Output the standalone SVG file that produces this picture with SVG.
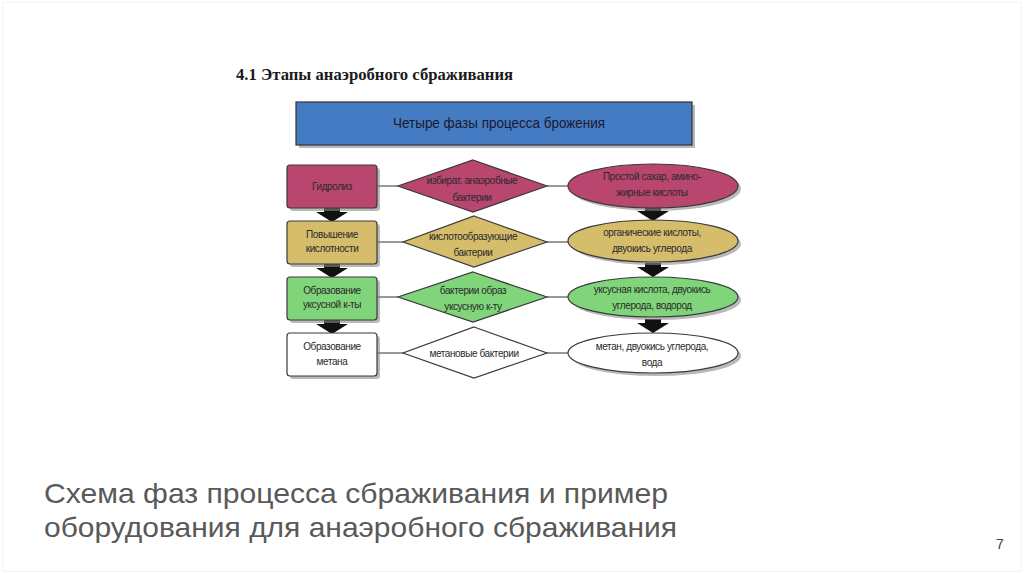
<svg xmlns="http://www.w3.org/2000/svg" width="1024" height="574" viewBox="0 0 1024 574">
<defs>
<style>
.t{font-family:"Liberation Sans",Arial,sans-serif;font-size:10px;fill:#2a2a2a;text-anchor:middle;letter-spacing:-0.4px}
.box{stroke:#3a3a3a;stroke-width:1.2}
.sh{fill:#8a8a8a;opacity:0.6}
.ln{stroke:#555;stroke-width:1.2;fill:none}
.arr{fill:#111}
.r1{fill:#b8466f}
.r2{fill:#d5bd6c}
.r3{fill:#80d47a}
.r4{fill:#ffffff}
</style>
</defs>
<rect x="0" y="0" width="1024" height="574" fill="#ffffff"/>
<rect x="2.5" y="2.5" width="1019" height="569" fill="none" stroke="#f4f4f4" stroke-width="1"/>

<text x="236" y="80" font-family="Liberation Serif,serif" font-weight="bold" font-size="16.5" fill="#1a1a1a" textLength="277" lengthAdjust="spacingAndGlyphs">4.1 Этапы анаэробного сбраживания</text>

<g id="header">
<rect x="299" y="105" width="396" height="43" class="sh"/>
<rect x="296" y="102" width="396" height="43" fill="#457bc3" stroke="#333" stroke-width="1.2"/>
<text x="393" y="128" font-family="Liberation Sans,Arial,sans-serif" font-size="14" fill="#1a1a2a" textLength="212" lengthAdjust="spacingAndGlyphs">Четыре фазы процесса брожения</text>
</g>

<g id="connectors">
<line x1="377" y1="186" x2="398" y2="186" class="ln"/>
<line x1="547" y1="186" x2="568" y2="186" class="ln"/>
<line x1="377" y1="242" x2="403" y2="242" class="ln"/>
<line x1="547" y1="242" x2="568" y2="242" class="ln"/>
<line x1="377" y1="297" x2="398" y2="297" class="ln"/>
<line x1="547" y1="297" x2="568" y2="297" class="ln"/>
<line x1="377" y1="353" x2="403" y2="353" class="ln"/>
<line x1="547" y1="353" x2="568" y2="353" class="ln"/>
<polygon class="arr" points="324,208 340,208 340,212 348,212 332,222 316,212 324,212"/>
<polygon class="arr" points="324,264 340,264 340,268 348,268 332,278 316,268 324,268"/>
<polygon class="arr" points="324,320 340,320 340,324 348,324 332,334 316,324 324,324"/>
<polygon class="arr" points="645,207 661,207 661,211 669,211 653,221 637,211 645,211"/>
<polygon class="arr" points="645,263 661,263 661,267 669,267 653,277 637,267 645,267"/>
<polygon class="arr" points="645,319 661,319 661,323 669,323 653,333 637,323 645,323"/>
</g>

<g id="row1">
<g id="hydrolysis">
<rect x="290" y="168" width="90" height="43" rx="3" class="sh"/>
<rect x="287" y="165" width="90" height="43" rx="3" class="box r1"/>
<text x="332" y="190" class="t">Гидролиз</text>
</g>
<g id="d1">
<polygon points="473,160 547,186 473,212 398,186" class="box r1"/>
<text x="472" y="184" class="t">избират. анаэробные</text>
<text x="472" y="201" class="t">бактерии</text>
</g>
<g id="e1">
<ellipse cx="656" cy="189" rx="85" ry="22" class="sh"/>
<ellipse cx="653" cy="186" rx="85" ry="22" class="box r1"/>
<text x="652" y="180" class="t">Простой сахар, амино-</text>
<text x="652" y="196" class="t">жирные кислоты</text>
</g>
</g>

<g id="row2">
<g id="acid">
<rect x="290" y="224" width="90" height="43" rx="3" class="sh"/>
<rect x="287" y="221" width="90" height="43" rx="3" class="box r2"/>
<text x="332" y="238" class="t">Повышение</text>
<text x="332" y="252" class="t">кислотности</text>
</g>
<g id="d2">
<polygon points="474,216 547,242 474,267 403,242" class="box r2"/>
<text x="473" y="240" class="t">кислотообразующие</text>
<text x="473" y="256" class="t">бактерии</text>
</g>
<g id="e2">
<ellipse cx="656" cy="244" rx="85" ry="21" class="sh"/>
<ellipse cx="653" cy="241" rx="85" ry="21" class="box r2"/>
<text x="652" y="236" class="t">органические кислоты,</text>
<text x="652" y="252" class="t">двуокись углерода</text>
</g>
</g>

<g id="row3">
<g id="acetic">
<rect x="290" y="280" width="90" height="43" rx="3" class="sh"/>
<rect x="287" y="277" width="90" height="43" rx="3" class="box r3"/>
<text x="332" y="294" class="t">Образование</text>
<text x="332" y="308" class="t">уксусной к-ты</text>
</g>
<g id="d3">
<polygon points="473,272 547,297 473,322 398,297" class="box r3"/>
<text x="473" y="294" class="t">бактерии образ</text>
<text x="473" y="310" class="t">уксусную к-ту</text>
</g>
<g id="e3">
<ellipse cx="656" cy="300" rx="85" ry="20" class="sh"/>
<ellipse cx="653" cy="297" rx="85" ry="20" class="box r3"/>
<text x="652" y="293" class="t">уксусная кислота, двуокись</text>
<text x="652" y="309" class="t">углерода, водород</text>
</g>
</g>

<g id="row4">
<g id="methane">
<rect x="290" y="336" width="90" height="43" rx="3" class="sh"/>
<rect x="287" y="333" width="90" height="43" rx="3" class="box r4"/>
<text x="332" y="350" class="t">Образование</text>
<text x="332" y="365" class="t">метана</text>
</g>
<g id="d4">
<polygon points="474,327 547,353 474,378 403,353" class="box r4"/>
<text x="474" y="357" class="t">метановые бактерии</text>
</g>
<g id="e4">
<ellipse cx="656" cy="356" rx="85" ry="20" class="sh"/>
<ellipse cx="653" cy="353" rx="85" ry="20" class="box r4"/>
<text x="652" y="350" class="t">метан, двуокись углерода,</text>
<text x="652" y="366" class="t">вода</text>
</g>
</g>

<g id="caption" font-family="Liberation Sans,Arial,sans-serif" font-size="28.5" fill="#595959">
<text x="44" y="503" textLength="624" lengthAdjust="spacingAndGlyphs">Схема фаз процесса сбраживания и пример</text>
<text x="44" y="537" textLength="633" lengthAdjust="spacingAndGlyphs">оборудования для анаэробного сбраживания</text>
</g>
<text x="996" y="549" font-family="Liberation Sans,Arial,sans-serif" font-size="14" fill="#404040">7</text>
</svg>
